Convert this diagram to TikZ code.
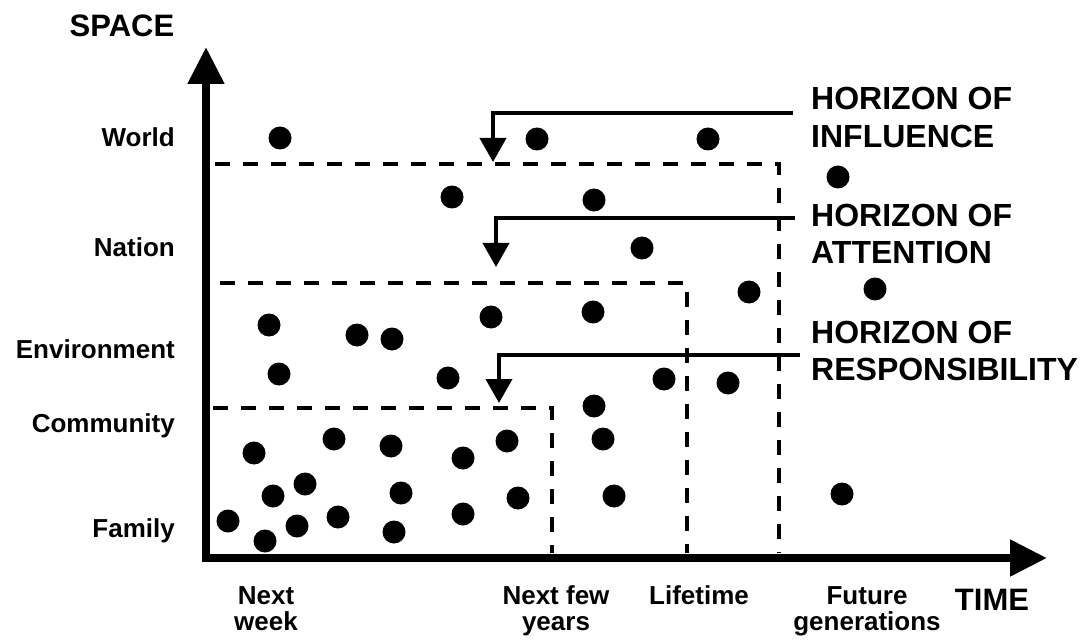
\documentclass[tikz,border=0pt]{standalone}
\usepackage{fontspec}
\setmainfont{Liberation Sans}
\usetikzlibrary{arrows.meta}
\begin{document}
\begin{tikzpicture}[x=1pt,y=-1pt,
  axis/.style={line width=8pt,-{Triangle[length=37pt,width=35pt]}},
  horizon/.style={dash pattern=on 15pt off 13pt,line width=4pt},
  pointer/.style={line width=4pt,-{Triangle[length=24pt,width=26pt]}},
  dot/.style={fill=black},
  axislabel/.style={font=\fontsize{31}{34}\selectfont\bfseries,inner sep=0pt},
  hlabel/.style={font=\fontsize{32}{34}\selectfont\bfseries,inner sep=0pt,anchor=base west},
  spacelabel/.style={font=\fontsize{26}{28}\selectfont\bfseries,inner sep=0pt,anchor=base east},
  timelabel/.style={font=\fontsize{26}{28}\selectfont\bfseries,inner sep=0pt,anchor=base}]
\useasboundingbox (0,0) rectangle (1086,644);

% axes
\coordinate (origin) at (206,558);
\coordinate (ytip) at (206,47);
\coordinate (xstart) at (202,558);
\coordinate (xtip) at (1047,558);
\draw[axis] (206,562) -- (ytip);
\draw[axis] (xstart) -- (xtip);

\node[axislabel,anchor=base] (space) at (122,37) {SPACE};
\node[axislabel,anchor=base] (time) at (992,610) {TIME};

% scale of space
\node[spacelabel] (world) at (175,147) {World};
\node[spacelabel] (nation) at (175,256) {Nation};
\node[spacelabel] (environment) at (175,358) {Environment};
\node[spacelabel] (community) at (175,432) {Community};
\node[spacelabel] (family) at (175,537) {Family};

% scale of time
\node[timelabel] (week1) at (266,604) {Next};
\node[timelabel] (week2) at (266,630) {week};
\node[timelabel] (years1) at (556,604) {Next few};
\node[timelabel] (years2) at (556,630) {years};
\node[timelabel] (lifetime) at (699,604) {Lifetime};
\node[timelabel] (future1) at (867,604) {Future};
\node[timelabel] (future2) at (867,630) {generations};

% horizon boundaries
\draw[horizon] (215,164) -- (779,164) -- (779,553);
\draw[horizon] (220,283) -- (687,283) -- (687,553);
\draw[horizon] (213,408) -- (552,408) -- (552,553);

% horizon labels
\node[hlabel] (infl1) at (811,110) {HORIZON OF};
\node[hlabel] (infl2) at (811,148) {INFLUENCE};
\node[hlabel] (att1) at (811,227) {HORIZON OF};
\node[hlabel] (att2) at (811,263) {ATTENTION};
\node[hlabel] (resp1) at (811,343) {HORIZON OF};
\node[hlabel] (resp2) at (811,380) {RESPONSIBILITY};

% pointers from labels to boundaries
\coordinate (inflstart) at (793,113);
\coordinate (infltip) at (493,162);
\coordinate (attstart) at (795,218);
\coordinate (atttip) at (496,267);
\coordinate (respstart) at (800,355);
\coordinate (resptip) at (499,403);
\draw[pointer] (inflstart) -| (infltip);
\draw[pointer] (attstart) -| (atttip);
\draw[pointer] (respstart) -| (resptip);

% people, communities, places
\foreach \px/\py in {280/138,537/139,708/139,838/177,452/197,594/200,642/248,
  749/292,875/289,269/325,357/335,392/339,491/317,593/312,279/374,448/378,
  664/379,728/383,594/406,254/453,334/439,391/446,463/458,507/441,603/439,
  273/496,305/484,401/493,518/498,614/496,842/494,228/521,297/526,338/517,
  463/514,394/532,265/541}
  \fill[dot] (\px,\py) circle[radius=11.5pt];
\end{tikzpicture}
\end{document}
